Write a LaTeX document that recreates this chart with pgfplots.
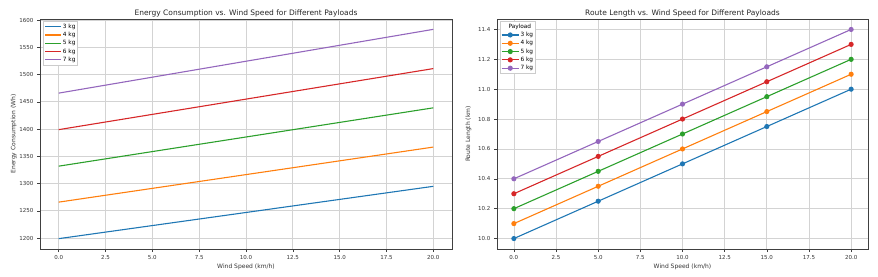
\documentclass[border=0pt]{standalone}
\usepackage{pgfplots}
\pgfplotsset{compat=1.18}
\usepackage{fontspec}
\setmainfont{DejaVu Sans}
\definecolor{c0}{HTML}{1F77B4}
\definecolor{c1}{HTML}{FF7F0E}
\definecolor{c2}{HTML}{2CA02C}
\definecolor{c3}{HTML}{D62728}
\definecolor{c4}{HTML}{9467BD}
\definecolor{gridc}{HTML}{D3D3D3}
\pgfplotsset{
  mystyle/.style={
    scale only axis,
    height=230pt,
    xmin=-1, xmax=21,
    xtick={0,2.5,...,20},
    grid=major,
    major grid style={gridc, line width=0.7pt},
    axis line style={black!75, line width=0.7pt},
    tick align=outside,
    major tick length=3pt,
    tick style={black!75, line width=0.5pt},
    tick pos=left,
    /pgf/number format/assume math mode=true,
    x tick label style={font=\fontsize{5.5}{6}\selectfont, text=black!80, /pgf/number format/.cd, fixed, fixed zerofill, precision=1},
    y tick label style={font=\fontsize{5.5}{6}\selectfont, text=black!80},
    xlabel style={font=\fontsize{6}{7}\selectfont, text=black!80},
    ylabel style={font=\fontsize{6}{7}\selectfont, text=black!80},
    title style={font=\fontsize{7.5}{9}\selectfont, text=black!85, yshift=-8pt},
    xlabel={Wind Speed (km/h)},
    legend cell align=left,
    legend style={font=\fontsize{5.8}{7}\selectfont, at={(0.008,0.99)}, anchor=north west, draw=black!20, fill=white, inner sep=1pt, nodes={fill=none, inner sep=1.2pt}},
  }
}
\begin{document}
\begin{tikzpicture}[x=1pt,y=1pt]
\useasboundingbox (0,0) rectangle (878,276);
\begin{axis}[mystyle,
  at={(40pt,27pt)}, anchor=south west,
  width=412pt,
  ymin=1180, ymax=1602,
  ytick={1200,1250,...,1600},
  y tick label style={/pgf/number format/.cd, fixed, 1000 sep={}},
  ylabel={Energy Consumption (Wh)},
  ylabel style={yshift=-4pt},
  xlabel style={yshift=3pt},
  title={Energy Consumption vs. Wind Speed for Different Payloads},
  legend image code/.code={\draw[#1] (0pt,0pt) -- (16pt,0pt);},
]
\addlegendimage{draw=c0, line width=1.2pt}
\addlegendentry{3 kg}
\addlegendimage{draw=c1, line width=1.2pt}
\addlegendentry{4 kg}
\addlegendimage{draw=c2, line width=1.2pt}
\addlegendentry{5 kg}
\addlegendimage{draw=c3, line width=1.2pt}
\addlegendentry{6 kg}
\addlegendimage{draw=c4, line width=1.2pt}
\addlegendentry{7 kg}
\addplot[c0, line width=1.1pt, forget plot] coordinates {(0,1199) (20,1295)};
\addplot[c1, line width=1.1pt, forget plot] coordinates {(0,1266) (20,1367)};
\addplot[c2, line width=1.1pt, forget plot] coordinates {(0,1332) (20,1439)};
\addplot[c3, line width=1.1pt, forget plot] coordinates {(0,1399) (20,1511)};
\addplot[c4, line width=1.1pt, forget plot] coordinates {(0,1466) (20,1583)};
\end{axis}
\begin{axis}[mystyle,
  at={(497pt,27pt)}, anchor=south west,
  width=371pt,
  ymin=9.93, ymax=11.47,
  ytick={10.0,10.2,...,11.41},
  y tick label style={/pgf/number format/.cd, fixed, fixed zerofill, precision=1},
  ylabel={Route Length (km)},
  ylabel style={yshift=0pt},
  xlabel style={yshift=3pt},
  title={Route Length vs. Wind Speed for Different Payloads},
]
\addlegendimage{empty legend}
\addlegendentry{\hspace{-12pt}Payload}
\addplot[c0, line width=1.1pt, mark=*, mark size=2pt] coordinates {(0,10.0) (5,10.25) (10,10.5) (15,10.75) (20,11.0)};
\addlegendentry{3 kg}
\addplot[c1, line width=1.1pt, mark=*, mark size=2pt] coordinates {(0,10.1) (5,10.35) (10,10.6) (15,10.85) (20,11.1)};
\addlegendentry{4 kg}
\addplot[c2, line width=1.1pt, mark=*, mark size=2pt] coordinates {(0,10.2) (5,10.45) (10,10.7) (15,10.95) (20,11.2)};
\addlegendentry{5 kg}
\addplot[c3, line width=1.1pt, mark=*, mark size=2pt] coordinates {(0,10.3) (5,10.55) (10,10.8) (15,11.05) (20,11.3)};
\addlegendentry{6 kg}
\addplot[c4, line width=1.1pt, mark=*, mark size=2pt] coordinates {(0,10.4) (5,10.65) (10,10.9) (15,11.15) (20,11.4)};
\addlegendentry{7 kg}
\end{axis}
\end{tikzpicture}
\end{document}
